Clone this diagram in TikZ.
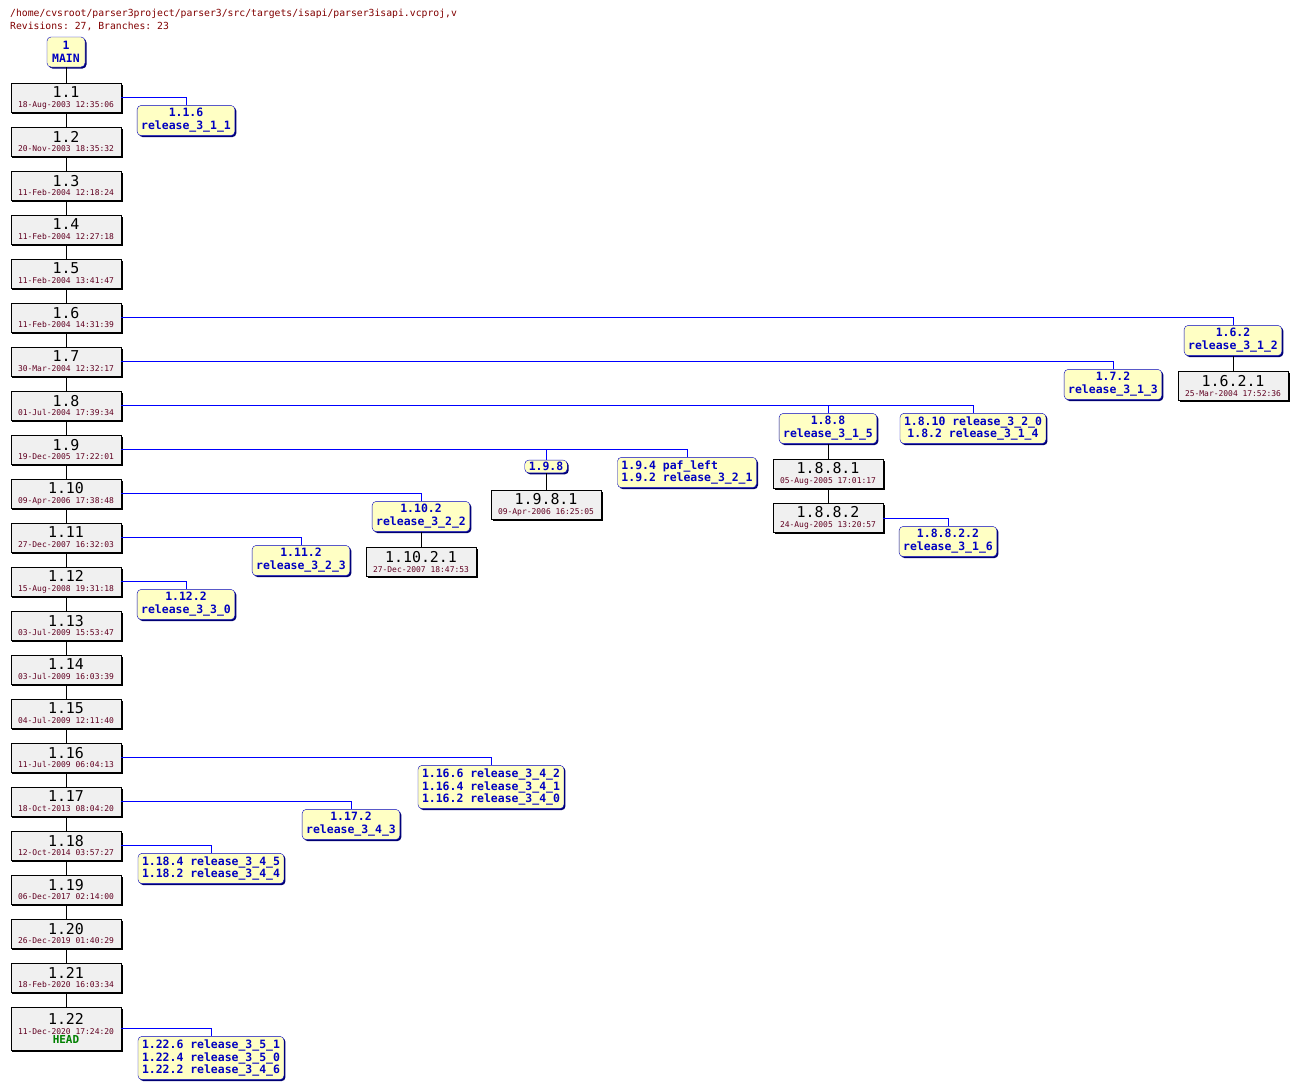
\documentclass[tikz,border=0pt]{standalone}
\usepackage{fontspec}
\setmonofont{DejaVu Sans Mono}
\usetikzlibrary{shadows}

\definecolor{revfill}{HTML}{F0F0F0}
\definecolor{tagfill}{HTML}{FFFFC4}
\definecolor{tagblue}{HTML}{0000C0}
\definecolor{linkblue}{HTML}{0000FF}
\definecolor{datered}{HTML}{600020}
\definecolor{pathred}{HTML}{800000}
\definecolor{headgreen}{HTML}{008000}

\newcommand{\revdate}[1]{{\fontsize{8}{9}\selectfont\color{datered}#1}}

\tikzset{
  revbox/.style={draw=black, fill=revfill, minimum width=110bp, minimum height=29bp,
    inner sep=0pt, align=center, font=\ttfamily\fontsize{15}{11}\selectfont,
    drop shadow={shadow xshift=1.5bp, shadow yshift=-1.5bp, fill=black, opacity=1}},
  tagbox/.style={draw=tagblue, fill=tagfill, rounded corners=4bp, text=tagblue,
    inner xsep=4bp, inner ysep=3bp, align=center,
    font=\ttfamily\bfseries\fontsize{11.5}{13}\selectfont,
    drop shadow={shadow xshift=1.5bp, shadow yshift=-1.5bp, fill=tagblue!60!black, opacity=1}},
  trunk/.style={black, line width=1bp},
  branch/.style={linkblue, line width=1bp}
}

\begin{document}
\begin{tikzpicture}[x=1bp, y=-1bp]
\useasboundingbox (0,0) rectangle (1297,1090);

% Header
\node[anchor=base west, inner sep=0pt, text=pathred, font=\ttfamily\fontsize{9.8}{12}\selectfont] (file) at (10,16) {/home/cvsroot/parser3project/parser3/src/targets/isapi/parser3isapi.vcproj,v};
\node[anchor=base west, inner sep=0pt, text=pathred, font=\ttfamily\fontsize{9.8}{12}\selectfont] (stats) at (10,29) {Revisions: 27, Branches: 23};

% Main trunk
\node[tagbox, minimum width=38bp, minimum height=30bp, inner xsep=2bp] (main) at (66,52) {1\\MAIN};
\node[revbox] (r1) at (66,97.5) {1.1\\[-1pt]\revdate{18-Aug-2003 12:35:06}};
\node[revbox] (r2) at (66,141.5) {1.2\\[-1pt]\revdate{20-Nov-2003 18:35:32}};
\node[revbox] (r3) at (66,185.5) {1.3\\[-1pt]\revdate{11-Feb-2004 12:18:24}};
\node[revbox] (r4) at (66,229.5) {1.4\\[-1pt]\revdate{11-Feb-2004 12:27:18}};
\node[revbox] (r5) at (66,273.5) {1.5\\[-1pt]\revdate{11-Feb-2004 13:41:47}};
\node[revbox] (r6) at (66,317.5) {1.6\\[-1pt]\revdate{11-Feb-2004 14:31:39}};
\node[revbox] (r7) at (66,361.5) {1.7\\[-1pt]\revdate{30-Mar-2004 12:32:17}};
\node[revbox] (r8) at (66,405.5) {1.8\\[-1pt]\revdate{01-Jul-2004 17:39:34}};
\node[revbox] (r9) at (66,449.5) {1.9\\[-1pt]\revdate{19-Dec-2005 17:22:01}};
\node[revbox] (r10) at (66,493.5) {1.10\\[-1pt]\revdate{09-Apr-2006 17:38:48}};
\node[revbox] (r11) at (66,537.5) {1.11\\[-1pt]\revdate{27-Dec-2007 16:32:03}};
\node[revbox] (r12) at (66,581.5) {1.12\\[-1pt]\revdate{15-Aug-2008 19:31:18}};
\node[revbox] (r13) at (66,625.5) {1.13\\[-1pt]\revdate{03-Jul-2009 15:53:47}};
\node[revbox] (r14) at (66,669.5) {1.14\\[-1pt]\revdate{03-Jul-2009 16:03:39}};
\node[revbox] (r15) at (66,713.5) {1.15\\[-1pt]\revdate{04-Jul-2009 12:11:40}};
\node[revbox] (r16) at (66,757.5) {1.16\\[-1pt]\revdate{11-Jul-2009 06:04:13}};
\node[revbox] (r17) at (66,801.5) {1.17\\[-1pt]\revdate{18-Oct-2013 08:04:20}};
\node[revbox] (r18) at (66,845.5) {1.18\\[-1pt]\revdate{12-Oct-2014 03:57:27}};
\node[revbox] (r19) at (66,889.5) {1.19\\[-1pt]\revdate{06-Dec-2017 02:14:00}};
\node[revbox] (r20) at (66,933.5) {1.20\\[-1pt]\revdate{26-Dec-2019 01:40:29}};
\node[revbox] (r21) at (66,977.5) {1.21\\[-1pt]\revdate{18-Feb-2020 16:03:34}};
\node[revbox, minimum height=43bp] (r22) at (66,1028.5) {1.22\\[-1pt]\revdate{11-Dec-2020 17:24:20}\\[-2pt]{\bfseries\fontsize{11}{11}\selectfont\color{headgreen}HEAD}};

\draw[trunk] (main) -- (r1);
\foreach \i [evaluate=\i as \j using int(\i+1)] in {1,...,21}
  \draw[trunk] (r\i) -- (r\j);

% Branch tags
\node[tagbox] (t116) at (186,120.5) {1.1.6\\release\_3\_1\_1};
\node[tagbox] (t162) at (1233,340.5) {1.6.2\\release\_3\_1\_2};
\node[tagbox] (t172) at (1113,384.5) {1.7.2\\release\_3\_1\_3};
\node[tagbox] (t188) at (828,428.5) {1.8.8\\release\_3\_1\_5};
\node[tagbox] (t1810) at (973,428.5) {1.8.10 release\_3\_2\_0\\1.8.2 release\_3\_1\_4};
\node[tagbox] (t18822) at (948,541.5) {1.8.8.2.2\\release\_3\_1\_6};
\node[tagbox, inner ysep=2bp] (t198) at (546,466.5) {1.9.8};
\node[tagbox, align=left] (t194) at (687,472.5) {1.9.4 paf\_left\\1.9.2 release\_3\_2\_1};
\node[tagbox] (t1102) at (421,516.5) {1.10.2\\release\_3\_2\_2};
\node[tagbox] (t1112) at (301,560.5) {1.11.2\\release\_3\_2\_3};
\node[tagbox] (t1122) at (186,604.5) {1.12.2\\release\_3\_3\_0};
\node[tagbox] (t1166) at (491,787) {1.16.6 release\_3\_4\_2\\1.16.4 release\_3\_4\_1\\1.16.2 release\_3\_4\_0};
\node[tagbox] (t1172) at (351,824.5) {1.17.2\\release\_3\_4\_3};
\node[tagbox] (t1184) at (211,868.5) {1.18.4 release\_3\_4\_5\\1.18.2 release\_3\_4\_4};
\node[tagbox] (t1226) at (211,1058) {1.22.6 release\_3\_5\_1\\1.22.4 release\_3\_5\_0\\1.22.2 release\_3\_4\_6};

% Branch revisions
\node[revbox] (r1621) at (1233,386) {1.6.2.1\\[-1pt]\revdate{25-Mar-2004 17:52:36}};
\node[revbox] (r1881) at (828,474) {1.8.8.1\\[-1pt]\revdate{05-Aug-2005 17:01:17}};
\node[revbox] (r1882) at (828,518) {1.8.8.2\\[-1pt]\revdate{24-Aug-2005 13:20:57}};
\node[revbox] (r1981) at (546,505) {1.9.8.1\\[-1pt]\revdate{09-Apr-2006 16:25:05}};
\node[revbox] (r11021) at (421,562) {1.10.2.1\\[-1pt]\revdate{27-Dec-2007 18:47:53}};

% Branch connectors
\draw[branch] (r1.east) -| (t116.north);
\draw[branch] (r6.east) -| (t162.north);
\draw[branch] (r7.east) -| (t172.north);
\draw[branch] (r8.east) -| (t188.north);
\draw[branch] (r8.east) -| (t1810.north);
\draw[branch] (r9.east) -| (t198.north);
\draw[branch] (r9.east) -| (t194.north);
\draw[branch] (r10.east) -| (t1102.north);
\draw[branch] (r11.east) -| (t1112.north);
\draw[branch] (r12.east) -| (t1122.north);
\draw[branch] (r16.east) -| (t1166.north);
\draw[branch] (r17.east) -| (t1172.north);
\draw[branch] (r18.east) -| (t1184.north);
\draw[branch] (r22.east) -| (t1226.north);
\draw[branch] (r1882.east) -| (t18822.north);

% Revisions on branches
\draw[trunk] (t162) -- (r1621);
\draw[trunk] (t188) -- (r1881);
\draw[trunk] (r1881) -- (r1882);
\draw[trunk] (t198) -- (r1981);
\draw[trunk] (t1102) -- (r11021);

\end{tikzpicture}
\end{document}
